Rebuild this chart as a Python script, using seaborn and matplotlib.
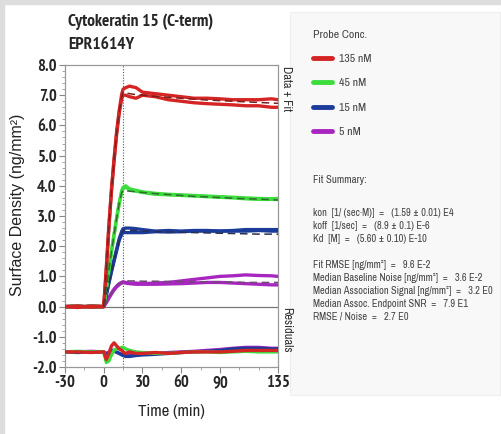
import matplotlib
matplotlib.use("Agg")
import matplotlib.pyplot as plt
from matplotlib.lines import Line2D
from matplotlib.patches import Rectangle
from matplotlib.ticker import MultipleLocator
import pandas as pd
import seaborn as sns

# time axis (min)
time = [-30, -20, -10, 0, 2, 4, 6, 8, 10, 12, 14, 15, 17, 20, 25, 30,
        40, 50, 60, 70, 80, 90, 100, 110, 120, 130, 135]

concs = ["135 nM", "45 nM", "15 nM", "5 nM"]
colors = ["#d42424", "#3ddc3d", "#1c3c9c", "#a826c0"]
fit_colors = ["#7a2020", "#2d6e2d", "#2a3050", "#6e4a72"]

red_a = [0, 0.02, -0.02, 0, 1.3, 2.7, 3.9, 4.9, 5.8, 6.5, 7.05, 7.2, 7.25, 7.3, 7.25, 7.1,
         7.05, 7.0, 6.95, 6.9, 6.9, 6.88, 6.85, 6.85, 6.85, 6.88, 6.85]
red_b = [0, -0.03, 0.02, 0, 1.2, 2.6, 3.8, 4.8, 5.7, 6.4, 6.9, 7.0, 7.0, 6.95, 6.9, 7.0,
         6.95, 6.85, 6.8, 6.75, 6.72, 6.7, 6.68, 6.65, 6.65, 6.6, 6.6]
red_fit = [0, 0, 0, 0, 1.25, 2.65, 3.85, 4.85, 5.75, 6.45, 6.95, 7.1, 7.08, 7.05, 7.02, 7.0,
           6.96, 6.93, 6.9, 6.87, 6.84, 6.82, 6.8, 6.78, 6.76, 6.74, 6.73]

green_a = [0, 0.02, -0.02, 0, 0.6, 1.25, 1.85, 2.4, 2.95, 3.45, 3.85, 3.95, 4.0, 3.9, 3.85, 3.8,
           3.75, 3.72, 3.7, 3.68, 3.66, 3.64, 3.62, 3.6, 3.58, 3.57, 3.58]
green_b = [0, -0.02, 0.02, 0, 0.55, 1.2, 1.8, 2.35, 2.9, 3.4, 3.8, 3.9, 3.95, 3.88, 3.82, 3.78,
           3.72, 3.7, 3.68, 3.66, 3.64, 3.62, 3.6, 3.57, 3.55, 3.55, 3.55]
green_fit = [0, 0, 0, 0, 0.58, 1.22, 1.82, 2.38, 2.92, 3.42, 3.78, 3.85, 3.84, 3.82, 3.8, 3.78,
             3.74, 3.71, 3.68, 3.65, 3.63, 3.61, 3.59, 3.57, 3.56, 3.54, 3.53]

blue_a = [0, 0.02, -0.02, 0, 0.4, 0.8, 1.2, 1.55, 1.9, 2.25, 2.5, 2.58, 2.6, 2.6, 2.58, 2.55,
          2.5, 2.52, 2.5, 2.52, 2.52, 2.5, 2.52, 2.55, 2.55, 2.55, 2.55]
blue_b = [0, -0.02, 0.02, 0, 0.38, 0.78, 1.15, 1.5, 1.85, 2.2, 2.4, 2.45, 2.45, 2.45, 2.45, 2.45,
          2.48, 2.47, 2.48, 2.5, 2.5, 2.5, 2.5, 2.5, 2.52, 2.5, 2.5]
blue_fit = [0, 0, 0, 0, 0.39, 0.79, 1.17, 1.52, 1.87, 2.22, 2.45, 2.52, 2.52, 2.52, 2.51, 2.5,
            2.48, 2.47, 2.46, 2.45, 2.44, 2.43, 2.42, 2.41, 2.4, 2.4, 2.4]

mag_a = [0, 0.02, -0.02, 0, 0.15, 0.3, 0.45, 0.58, 0.68, 0.76, 0.8, 0.82, 0.8, 0.78, 0.78, 0.76,
         0.78, 0.8, 0.85, 0.9, 0.95, 1.0, 1.02, 1.05, 1.03, 1.02, 1.0]
mag_b = [0, -0.02, 0.02, 0, 0.13, 0.28, 0.42, 0.55, 0.65, 0.73, 0.78, 0.8, 0.78, 0.76, 0.74, 0.74,
         0.74, 0.75, 0.76, 0.78, 0.8, 0.8, 0.78, 0.76, 0.74, 0.72, 0.72]
mag_fit = [0, 0, 0, 0, 0.14, 0.29, 0.44, 0.57, 0.67, 0.75, 0.82, 0.85, 0.85, 0.85, 0.85, 0.84,
           0.84, 0.83, 0.83, 0.82, 0.82, 0.81, 0.81, 0.8, 0.8, 0.8, 0.8]

# residuals, shown offset at -1.5
red_res = [-1.5, -1.5, -1.52, -1.5, -1.75, -1.55, -1.3, -1.2, -1.3, -1.4, -1.45, -1.5, -1.55, -1.5,
           -1.55, -1.55, -1.52, -1.55, -1.52, -1.5, -1.5, -1.5, -1.48, -1.45, -1.45, -1.45, -1.45]
green_res = [-1.5, -1.48, -1.5, -1.5, -1.85, -1.8, -1.6, -1.45, -1.4, -1.38, -1.35, -1.35, -1.4, -1.45,
             -1.5, -1.52, -1.55, -1.55, -1.52, -1.5, -1.5, -1.52, -1.5, -1.48, -1.5, -1.5, -1.5]
blue_res = [-1.5, -1.52, -1.5, -1.5, -1.6, -1.55, -1.45, -1.45, -1.5, -1.55, -1.6, -1.62, -1.65, -1.65,
            -1.62, -1.6, -1.58, -1.55, -1.52, -1.5, -1.48, -1.45, -1.4, -1.38, -1.38, -1.4, -1.4]
mag_res = [-1.5, -1.5, -1.48, -1.5, -1.55, -1.5, -1.45, -1.48, -1.52, -1.55, -1.58, -1.6, -1.6, -1.58,
           -1.55, -1.55, -1.55, -1.52, -1.5, -1.48, -1.45, -1.42, -1.38, -1.35, -1.35, -1.38, -1.38]

data_a = [red_a, green_a, blue_a, mag_a]
data_b = [red_b, green_b, blue_b, mag_b]
fits = [red_fit, green_fit, blue_fit, mag_fit]
resids = [red_res, green_res, blue_res, mag_res]

summary = [
    "kon  [1/ (sec·M)]  =   (1.59 ± 0.01) E4",
    "koff  [1/sec]  =   (8.9 ± 0.1) E-6",
    "Kd  [M]  =   (5.60 ± 0.10) E-10",
    "",
    "Fit RMSE [ng/mm²]  =   9.6 E-2",
    "Median Baseline Noise [ng/mm²]  =   3.6 E-2",
    "Median Association Signal [ng/mm²]  =   3.2 E0",
    "Median Assoc. Endpoint SNR  =   7.9 E1",
    "RMSE / Noise  =   2.7 E0",
]

sns.set_style("white")
narrow = ["Archivo Narrow", "DejaVu Sans"]
bold_narrow = ["PT Sans Narrow", "DejaVu Sans"]
plt.rcParams["font.family"] = narrow
plt.rcParams["axes.unicode_minus"] = False

fig = plt.figure(figsize=(5.02, 4.34), dpi=100)
W, H = 502, 434

# picture frame and right panel
fig.patches.append(Rectangle((0, 1 - 4 / H), 1, 4 / H, transform=fig.transFigure,
                             color="#dddddd", zorder=0))
fig.patches.append(Rectangle((0, 0), 4 / W, 1, transform=fig.transFigure,
                             color="#dddddd", zorder=0))
fig.patches.append(Rectangle((290 / W, 1 - 395 / H), 210 / W, 383 / H, transform=fig.transFigure,
                             facecolor="#f8f8f8", edgecolor="#eeeeee", lw=0.8, zorder=0))

ax = fig.add_axes([65 / W, 1 - 367 / H, 213 / W, 302 / H])

rows = []
for i, c in enumerate(concs):
    for kind, vals in [("a", data_a[i]), ("b", data_b[i]), ("res", resids[i])]:
        for t, v in zip(time, vals):
            rows.append({"time": t, "density": v, "conc": c, "trace": c + kind})
df = pd.DataFrame(rows)

ax.axhline(0, color="#777777", lw=0.9, zorder=1)
ax.axvline(15, color="#555555", lw=0.8, ls=(0, (1, 1.5)), zorder=1)

for i in reversed(range(4)):
    sub = df[df["conc"] == concs[i]]
    sns.lineplot(data=sub, x="time", y="density", units="trace", estimator=None,
                 color=colors[i], lw=2.4, ax=ax, zorder=3 + (3 - i))
    fit_t = [t for t in time if t >= 0]
    fit_v = fits[i][time.index(0):]
    sns.lineplot(x=fit_t, y=fit_v, color=fit_colors[i], lw=1.1, ls=(0, (5, 3)),
                 ax=ax, zorder=8)

ax.set_xlim(-30, 135)
ax.set_ylim(-2.0, 8.0)
ax.set_xticks([-30, 0, 30, 60, 90, 135])
ax.xaxis.set_minor_locator(MultipleLocator(15))
ax.yaxis.set_major_locator(MultipleLocator(1.0))
ax.yaxis.set_minor_locator(MultipleLocator(0.2))
ax.set_yticklabels([f"{v:.1f}" for v in ax.get_yticks()])
ax.tick_params(axis="both", which="major", direction="out", length=4, width=0.8,
               color="#888888", labelsize=12, pad=2, bottom=True, left=True)
ax.tick_params(axis="both", which="minor", direction="out", length=2, width=0.6,
               color="#999999", bottom=True, left=True)
for lab in ax.get_xticklabels() + ax.get_yticklabels():
    lab.set_fontweight("bold")
    lab.set_family(bold_narrow)
for sp in ax.spines.values():
    sp.set_color("#999999")
    sp.set_linewidth(0.9)

ax.set_xlabel("Time (min)", fontsize=12, labelpad=9)
ax.set_ylabel("")
fig.text(18 / W, 1 - 205 / H, "Surface Density (ng/mm²)", rotation=90, ha="center",
         va="center", fontsize=11.5, family=["Liberation Sans", "DejaVu Sans"], color="#222222")

fig.text(68 / W, 1 - 22 / H, "Cytokeratin 15 (C-term)", fontsize=12.5, fontweight="bold",
         family=bold_narrow, va="center", ha="left")
fig.text(68 / W, 1 - 45 / H, "EPR1614Y", fontsize=12.5, fontweight="bold",
         family=bold_narrow, va="center", ha="left")

fig.text(281 / W, 1 - 66 / H, "Data + Fit", rotation=270, ha="left", va="top",
         fontsize=9, color="#333333")
fig.text(281 / W, 1 - 307 / H, "Residuals", rotation=270, ha="left", va="top",
         fontsize=9, color="#333333")

# legend
handles = [Line2D([0], [0], color=c, lw=3.5) for c in colors]
leg = fig.legend(handles, concs, title="Probe Conc.", loc="upper left",
                 bbox_to_anchor=(302 / W, 1 - 19 / H), frameon=False, fontsize=8.5,
                 title_fontsize=8.5, handlelength=1.6, handletextpad=0.6,
                 labelspacing=1.2, alignment="left")
for txt in leg.get_texts():
    txt.set_color("#444444")
leg.get_title().set_color("#444444")

fig.text(313 / W, 1 - 180 / H, "Fit Summary:", fontsize=7.8, color="#444444", va="center")
for k, line in enumerate(summary):
    fig.text(313 / W, 1 - (213 + 13 * k) / H, line, fontsize=7.5, color="#444444", va="center")

fig.savefig("out.png", dpi=100)
